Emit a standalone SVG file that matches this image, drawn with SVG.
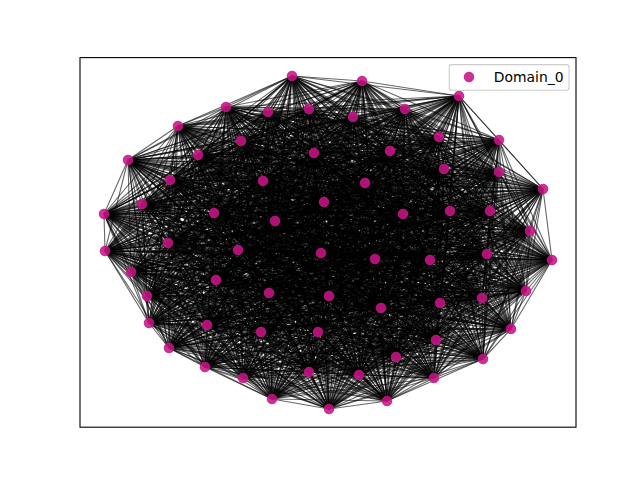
<svg xmlns="http://www.w3.org/2000/svg" width="640" height="480" viewBox="0 0 640 480">
<style>
.e{fill:none;stroke:#000;stroke-opacity:.6;stroke-width:1.1;stroke-linejoin:bevel}
.n{fill:#C71585;fill-opacity:.88;stroke:#C71585;stroke-opacity:.88;stroke-width:1}
.t{font-family:"DejaVu Sans",sans-serif;font-size:13.9px;fill:#000}
</style>
<rect width="640" height="480" fill="#fff"/>
<g id="connectors">
<path class="e" d="M292 76 362 81 459 96 226 107 309 109 405 109 268 112 353 117 178 126 439 137 499 140 241 141 390 151 314 153 198 155 128 160 444 169 499 172 170 180 263 181 365 183 543 189 324 202 142 204 104 214 214 213 403 214 450 211 490 211 275 221 530 231 168 243 105 251 238 250 321 253 487 254 375 259 430 260 552 260 131 272 216 280 526 291 269 293 147 296 329 296 482 298 440 303 381 308 149 323 207 325 511 329 261 332 318 332 436 340 169 348 396 357 483 359 205 367 309 372 359 375 434 378 243 378 272 399 387 401 329 409Z"/>
<path class="e" d="M292 76 459 96 309 109 268 112 178 126 499 140 390 151 198 155 444 169 170 180 365 183 324 202 104 214 403 214 490 211 530 231 105 251 321 253 375 259 552 260 216 280 269 293 329 296 440 303 149 323 511 329 318 332 169 348 483 359 309 372 434 378 272 399 329 409 362 81 226 107 405 109 353 117 439 137 241 141 314 153 128 160 499 172 263 181 543 189 142 204 214 213 450 211 275 221 168 243 238 250 487 254 430 260 131 272 526 291 147 296 482 298 381 308 207 325 261 332 436 340 396 357 205 367 359 375 243 378 387 401Z"/>
<path class="e" d="M292 76 226 107 268 112 439 137 390 151 128 160 170 180 543 189 104 214 450 211 530 231 238 250 375 259 131 272 269 293 482 298 149 323 261 332 169 348 205 367 434 378 387 401 362 81 309 109 353 117 499 140 314 153 444 169 263 181 324 202 214 213 490 211 168 243 321 253 430 260 216 280 147 296 440 303 207 325 318 332 396 357 309 372 243 378 329 409 459 96 405 109 178 126 241 141 198 155 499 172 365 183 142 204 403 214 275 221 105 251 487 254 552 260 526 291 329 296 381 308 511 329 436 340 483 359 359 375 272 399Z"/>
<path class="e" d="M292 76 309 109 178 126 390 151 444 169 365 183 104 214 490 211 105 251 375 259 216 280 329 296 149 323 318 332 483 359 434 378 329 409 226 107 353 117 241 141 128 160 263 181 142 204 450 211 168 243 487 254 131 272 147 296 381 308 261 332 396 357 359 375 387 401 459 96 268 112 499 140 198 155 170 180 324 202 403 214 530 231 321 253 552 260 269 293 440 303 511 329 169 348 309 372 272 399 362 81 405 109 439 137 314 153 499 172 543 189 214 213 275 221 238 250 430 260 526 291 482 298 207 325 436 340 205 367 243 378Z"/>
<path class="e" d="M292 76 405 109 499 140 128 160 365 183 214 213 530 231 487 254 216 280 482 298 511 329 396 357 434 378Z M362 81 268 112 241 141 444 169 543 189 403 214 168 243 375 259 526 291 440 303 261 332 483 359 243 378Z M459 96 353 117 390 151 499 172 324 202 450 211 105 251 430 260 269 293 381 308 318 332 205 367 272 399Z M226 107 178 126 314 153 170 180 142 204 490 211 238 250 552 260 147 296 149 323 436 340 309 372 387 401Z M309 109 439 137 198 155 263 181 104 214 275 221 321 253 131 272 329 296 207 325 169 348 359 375 329 409Z"/>
<path class="e" d="M292 76 268 112 390 151 170 180 104 214 530 231 375 259 269 293 149 323 169 348 434 378 362 81 353 117 314 153 263 181 214 213 168 243 430 260 147 296 207 325 396 357 243 378 459 96 178 126 198 155 365 183 403 214 105 251 552 260 329 296 511 329 483 359 272 399 226 107 439 137 128 160 543 189 450 211 238 250 131 272 482 298 261 332 205 367 387 401 309 109 499 140 444 169 324 202 490 211 321 253 216 280 440 303 318 332 309 372 329 409 405 109 241 141 499 172 142 204 275 221 487 254 526 291 381 308 436 340 359 375Z"/>
<path class="e" d="M292 76 353 117 198 155 543 189 490 211 487 254 269 293 207 325 483 359 387 401 405 109 390 151 263 181 403 214 238 250 216 280 381 308 169 348 243 378 226 107 499 140 499 172 104 214 168 243 552 260 482 298 318 332 359 375 362 81 178 126 128 160 324 202 275 221 375 259 147 296 511 329 205 367 329 409 268 112 314 153 365 183 450 211 321 253 526 291 149 323 396 357 272 399 309 109 241 141 170 180 214 213 105 251 131 272 440 303 436 340 434 378 459 96 439 137 444 169 142 204 530 231 430 260 329 296 261 332 309 372Z"/>
<path class="e" d="M292 76 178 126 444 169 104 214 105 251 216 280 149 323 483 359 329 409 353 117 128 160 142 204 168 243 131 272 381 308 396 357 387 401 268 112 198 155 324 202 530 231 552 260 440 303 169 348 272 399 405 109 314 153 543 189 275 221 430 260 482 298 436 340 243 378 309 109 390 151 365 183 490 211 375 259 329 296 318 332 434 378 226 107 241 141 263 181 450 211 487 254 147 296 261 332 359 375 459 96 499 140 170 180 403 214 321 253 269 293 511 329 309 372 362 81 439 137 499 172 214 213 238 250 526 291 207 325 205 367Z"/>
<path class="e" d="M292 76 439 137 170 180 450 211 375 259 482 298 169 348 387 401 353 117 444 169 214 213 321 253 147 296 318 332 243 378 405 109 198 155 142 204 105 251 526 291 511 329 359 375 226 107 390 151 543 189 530 231 131 272 149 323 205 367 362 81 499 140 263 181 490 211 430 260 440 303 396 357 329 409 178 126 499 172 403 214 487 254 329 296 436 340 272 399 268 112 128 160 104 214 238 250 269 293 261 332 434 378 309 109 314 153 324 202 168 243 216 280 207 325 309 372 459 96 241 141 365 183 275 221 552 260 381 308 483 359Z"/>
<path class="e" d="M292 76 499 140 365 183 530 231 216 280 511 329 434 378 405 109 128 160 214 213 487 254 482 298 396 357Z M362 81 241 141 543 189 168 243 526 291 261 332 243 378 268 112 444 169 403 214 375 259 440 303 483 359Z M459 96 390 151 324 202 105 251 269 293 318 332 272 399 353 117 499 172 450 211 430 260 381 308 205 367Z M226 107 314 153 142 204 238 250 147 296 436 340 387 401 178 126 170 180 490 211 552 260 149 323 309 372Z M309 109 198 155 104 214 321 253 329 296 169 348 329 409 439 137 263 181 275 221 131 272 207 325 359 375Z"/>
<path class="e" d="M292 76 241 141 324 202 238 250 329 296 396 357 362 81 390 151 142 204 321 253 482 298 483 359 459 96 314 153 104 214 487 254 440 303 205 367 226 107 198 155 214 213 375 259 381 308 309 372 309 109 128 160 403 214 430 260 149 323 359 375 405 109 444 169 450 211 552 260 207 325 434 378 268 112 499 172 490 211 131 272 511 329 243 378 353 117 170 180 275 221 216 280 261 332 272 399 178 126 263 181 530 231 526 291 318 332 387 401 439 137 365 183 168 243 269 293 436 340 329 409 499 140 543 189 105 251 147 296 169 348Z"/>
<path class="e" d="M292 76 390 151 104 214 375 259 149 323 434 378 353 117 263 181 168 243 147 296 396 357 459 96 198 155 403 214 552 260 511 329 272 399 439 137 543 189 238 250 482 298 205 367 309 109 444 169 490 211 216 280 318 332 329 409 241 141 142 204 487 254 381 308 359 375 268 112 170 180 530 231 269 293 169 348 362 81 314 153 214 213 430 260 207 325 243 378 178 126 365 183 105 251 329 296 483 359 226 107 128 160 450 211 131 272 261 332 387 401 499 140 324 202 321 253 440 303 309 372 405 109 499 172 275 221 526 291 436 340Z"/>
<path class="e" d="M292 76 314 153 403 214 131 272 318 332Z M362 81 198 155 450 211 216 280 436 340Z M459 96 128 160 490 211 526 291 169 348Z M226 107 444 169 275 221 269 293 396 357Z M309 109 499 172 530 231 147 296 483 359Z M405 109 170 180 168 243 329 296 205 367Z M268 112 263 181 105 251 482 298 309 372Z M353 117 365 183 238 250 440 303 359 375Z M178 126 543 189 321 253 381 308 434 378Z M439 137 324 202 487 254 149 323 243 378Z M499 140 142 204 375 259 207 325 272 399Z M241 141 104 214 430 260 511 329 387 401Z M390 151 214 213 552 260 261 332 329 409Z"/>
<path class="e" d="M292 76 198 155 490 211 269 293 483 359 405 109 263 181 238 250 381 308 243 378 499 140 104 214 552 260 318 332 362 81 128 160 275 221 147 296 205 367 268 112 365 183 321 253 149 323 272 399 241 141 214 213 131 272 436 340 459 96 444 169 530 231 329 296 309 372 353 117 543 189 487 254 207 325 387 401 390 151 403 214 216 280 169 348 226 107 499 172 168 243 482 298 359 375 178 126 324 202 375 259 511 329 329 409 314 153 450 211 526 291 396 357 309 109 170 180 105 251 440 303 434 378 439 137 142 204 430 260 261 332Z"/>
<path class="e" d="M292 76 128 160 530 231 482 298 434 378 499 140 214 213 216 280 396 357 405 109 365 183 487 254 511 329Z M362 81 444 169 168 243 440 303 243 378 241 141 403 214 526 291 483 359 268 112 543 189 375 259 261 332Z M459 96 499 172 105 251 381 308 272 399 390 151 450 211 269 293 205 367 353 117 324 202 430 260 318 332Z M226 107 170 180 238 250 149 323 387 401 314 153 490 211 147 296 309 372 178 126 142 204 552 260 436 340Z M309 109 263 181 321 253 207 325 329 409 198 155 275 221 329 296 359 375 439 137 104 214 131 272 169 348Z"/>
<path class="e" d="M292 76 444 169 105 251 149 323 329 409 128 160 168 243 381 308 387 401 198 155 530 231 440 303 272 399 314 153 275 221 482 298 243 378 390 151 490 211 329 296 434 378 241 141 450 211 147 296 359 375 499 140 403 214 269 293 309 372 439 137 214 213 526 291 205 367 178 126 104 214 216 280 483 359 353 117 142 204 131 272 396 357 268 112 324 202 552 260 169 348 405 109 543 189 430 260 436 340 309 109 365 183 375 259 318 332 226 107 263 181 487 254 261 332 459 96 170 180 321 253 511 329 362 81 499 172 238 250 207 325Z"/>
<path class="e" d="M292 76 499 172 321 253 261 332 226 107 365 183 430 260 169 348 268 112 142 204 216 280 205 367 439 137 403 214 147 296 434 378 390 151 275 221 440 303 387 401 128 160 105 251 207 325 362 81 170 180 487 254 318 332 309 109 543 189 552 260 396 357 353 117 104 214 526 291 309 372 499 140 450 211 329 296 243 378 314 153 530 231 381 308 329 409 444 169 238 250 511 329 459 96 263 181 375 259 436 340 405 109 324 202 131 272 483 359 178 126 214 213 269 293 359 375 241 141 490 211 482 298 272 399 198 155 168 243 149 323Z"/>
<path class="e" d="M292 76 170 180 375 259 169 348 353 117 214 213 147 296 243 378 198 155 105 251 511 329 226 107 543 189 131 272 205 367 499 140 490 211 440 303 329 409 499 172 487 254 436 340 268 112 104 214 269 293 434 378 314 153 168 243 207 325 459 96 365 183 552 260 483 359 439 137 450 211 482 298 387 401 444 169 321 253 318 332 405 109 142 204 526 291 359 375 390 151 530 231 149 323 362 81 263 181 430 260 396 357 178 126 403 214 329 296 272 399 128 160 238 250 261 332 309 109 324 202 216 280 309 372 241 141 275 221 381 308Z"/>
<path class="e" d="M292 76 263 181 552 260 205 367 241 141 530 231 207 325 226 107 324 202 526 291 434 378 198 155 238 250 318 332 268 112 214 213 329 296 387 401 499 172 375 259 396 357 439 137 490 211 381 308 362 81 365 183 131 272 309 372 390 151 168 243 511 329 309 109 142 204 269 293 243 378 128 160 321 253 436 340 353 117 403 214 482 298 329 409 170 180 430 260 483 359 499 140 275 221 149 323 459 96 543 189 216 280 359 375 314 153 105 251 261 332 405 109 104 214 147 296 272 399 444 169 487 254 169 348 178 126 450 211 440 303Z"/>
<path class="e" d="M292 76 365 183 216 280 434 378 128 160 487 254 396 357 499 140 530 231 511 329 405 109 214 213 482 298Z M362 81 543 189 526 291 243 378 444 169 375 259 483 359 241 141 168 243 261 332 268 112 403 214 440 303Z M459 96 324 202 269 293 272 399 499 172 430 260 205 367 390 151 105 251 318 332 353 117 450 211 381 308Z M226 107 142 204 147 296 387 401 170 180 552 260 309 372 314 153 238 250 436 340 178 126 490 211 149 323Z M309 109 104 214 329 296 329 409 263 181 131 272 359 375 198 155 321 253 169 348 439 137 275 221 207 325Z"/>
<path class="e" d="M292 76 543 189 269 293 387 401 263 181 216 280 243 378 499 172 552 260 359 375 128 160 375 259 205 367 314 153 321 253 396 357 241 141 105 251 436 340 439 137 530 231 261 332 353 117 490 211 207 325 405 109 403 214 381 308 226 107 104 214 482 298 362 81 324 202 147 296 329 409 365 183 526 291 272 399 170 180 131 272 434 378 444 169 430 260 309 372 198 155 487 254 483 359 390 151 238 250 169 348 499 140 168 243 318 332 178 126 275 221 511 329 268 112 450 211 149 323 309 109 214 213 440 303 459 96 142 204 329 296Z"/>
<path class="e" d="M292 76 324 202 329 296 362 81 142 204 482 298 459 96 104 214 440 303 226 107 214 213 381 308 309 109 403 214 149 323 405 109 450 211 207 325 268 112 490 211 511 329 353 117 275 221 261 332 178 126 530 231 318 332 439 137 168 243 436 340 499 140 105 251 169 348 241 141 238 250 396 357 390 151 321 253 483 359 314 153 487 254 205 367 198 155 375 259 309 372 128 160 430 260 359 375 444 169 552 260 434 378 499 172 131 272 243 378 170 180 216 280 272 399 263 181 526 291 387 401 365 183 269 293 329 409 543 189 147 296Z"/>
<path class="e" d="M292 76 142 204 440 303 309 109 450 211 511 329 178 126 168 243 169 348 390 151 487 254 309 372 444 169 131 272 272 399 365 183 147 296 362 81 104 214 381 308 405 109 490 211 261 332 439 137 105 251 396 357 314 153 375 259 359 375 499 172 216 280 387 401 543 189 329 296 459 96 214 213 149 323 268 112 275 221 318 332 499 140 238 250 483 359 198 155 430 260 434 378 170 180 526 291 329 409 324 202 482 298 226 107 403 214 207 325 353 117 530 231 436 340 241 141 321 253 205 367 128 160 552 260 243 378 263 181 269 293Z"/>
<path class="e" d="M292 76 104 214 149 323 353 117 168 243 396 357 198 155 552 260 272 399 543 189 482 298 309 109 490 211 318 332 241 141 487 254 359 375 170 180 269 293 362 81 214 213 207 325 178 126 105 251 483 359 128 160 131 272 387 401 324 202 440 303 405 109 275 221 436 340 390 151 375 259 434 378 263 181 147 296 459 96 403 214 511 329 439 137 238 250 205 367 444 169 216 280 329 409 142 204 381 308 268 112 530 231 169 348 314 153 430 260 243 378 365 183 329 296 226 107 450 211 261 332 499 140 321 253 309 372 499 172 526 291Z"/>
<path class="e" d="M292 76 214 213 511 329 499 140 487 254 434 378 365 183 482 298 405 109 530 231 396 357 128 160 216 280Z M362 81 403 214 261 332 241 141 375 259 243 378 543 189 440 303 268 112 168 243 483 359 444 169 526 291Z M459 96 450 211 318 332 390 151 430 260 272 399 324 202 381 308 353 117 105 251 205 367 499 172 269 293Z M226 107 490 211 436 340 314 153 552 260 387 401 142 204 149 323 178 126 238 250 309 372 170 180 147 296Z M309 109 275 221 169 348 198 155 131 272 329 409 104 214 207 325 439 137 321 253 359 375 263 181 329 296Z"/>
<path class="e" d="M292 76 403 214 318 332 314 153 131 272Z M362 81 450 211 436 340 198 155 216 280Z M459 96 490 211 169 348 128 160 526 291Z M226 107 275 221 396 357 444 169 269 293Z M309 109 530 231 483 359 499 172 147 296Z M405 109 168 243 205 367 170 180 329 296Z M268 112 105 251 309 372 263 181 482 298Z M353 117 238 250 359 375 365 183 440 303Z M178 126 321 253 434 378 543 189 381 308Z M439 137 487 254 243 378 324 202 149 323Z M499 140 375 259 272 399 142 204 207 325Z M241 141 430 260 387 401 104 214 511 329Z M390 151 552 260 329 409 214 213 261 332Z"/>
<path class="e" d="M292 76 450 211 169 348 444 169 147 296 405 109 105 251 359 375 543 189 149 323 499 140 430 260 329 409 403 214 436 340 128 160 269 293 309 109 168 243 309 372 365 183 381 308 439 137 375 259 387 401 214 213 318 332 198 155 526 291 226 107 530 231 205 367 263 181 440 303 178 126 487 254 272 399 104 214 261 332 314 153 216 280 459 96 275 221 483 359 170 180 482 298 353 117 321 253 243 378 142 204 511 329 390 151 131 272 362 81 490 211 396 357 499 172 329 296 268 112 238 250 434 378 324 202 207 325 241 141 552 260Z"/>
<path class="e" d="M292 76 490 211 483 359 263 181 381 308 499 140 552 260 362 81 275 221 205 367 365 183 149 323 241 141 131 272 459 96 530 231 309 372 543 189 207 325 390 151 216 280 226 107 168 243 359 375 324 202 511 329 314 153 526 291 309 109 105 251 434 378 142 204 261 332 198 155 269 293 405 109 238 250 243 378 104 214 318 332 128 160 147 296 268 112 321 253 272 399 214 213 436 340 444 169 329 296 353 117 487 254 387 401 403 214 169 348 499 172 482 298 178 126 375 259 329 409 450 211 396 357 170 180 440 303 439 137 430 260Z"/>
<path class="e" d="M292 76 275 221 309 372 324 202 261 332 128 160 329 296 178 126 430 260 362 81 530 231 359 375 142 204 318 332 444 169 482 298 439 137 552 260 459 96 168 243 434 378 104 214 436 340 499 172 440 303 499 140 131 272 226 107 105 251 243 378 214 213 169 348 170 180 381 308 241 141 216 280 309 109 238 250 272 399 403 214 396 357 263 181 149 323 390 151 526 291 405 109 321 253 387 401 450 211 483 359 365 183 207 325 314 153 269 293 268 112 487 254 329 409 490 211 205 367 543 189 511 329 198 155 147 296 353 117 375 259Z"/>
<path class="e" d="M292 76 530 231 434 378 214 213 396 357 365 183 511 329 128 160 482 298 499 140 216 280 405 109 487 254Z M362 81 168 243 243 378 403 214 483 359 543 189 261 332 444 169 440 303 241 141 526 291 268 112 375 259Z M459 96 105 251 272 399 450 211 205 367 324 202 318 332 499 172 381 308 390 151 269 293 353 117 430 260Z M226 107 238 250 387 401 490 211 309 372 142 204 436 340 170 180 149 323 314 153 147 296 178 126 552 260Z M309 109 321 253 329 409 275 221 359 375 104 214 169 348 263 181 207 325 198 155 329 296 439 137 131 272Z"/>
<path class="e" d="M292 76 168 243 272 399 490 211 359 375 214 213 483 359 324 202 436 340 263 181 511 329 444 169 381 308 314 153 329 296 499 140 526 291 353 117 552 260 309 109 487 254 362 81 105 251 387 401 275 221 434 378 403 214 205 367 142 204 169 348 365 183 261 332 499 172 149 323 198 155 482 298 241 141 269 293 178 126 131 272 405 109 375 259 459 96 238 250 329 409 530 231 243 378 450 211 309 372 104 214 396 357 543 189 318 332 170 180 207 325 128 160 440 303 390 151 147 296 439 137 216 280 268 112 430 260 226 107 321 253Z"/>
<path class="e" d="M292 76 105 251 329 409 168 243 387 401 530 231 272 399 275 221 243 378 490 211 434 378 450 211 359 375 403 214 309 372 214 213 205 367 104 214 483 359 142 204 396 357 324 202 169 348 543 189 436 340 365 183 318 332 263 181 261 332 170 180 511 329 499 172 207 325 444 169 149 323 128 160 381 308 198 155 440 303 314 153 482 298 390 151 329 296 241 141 147 296 499 140 269 293 439 137 526 291 178 126 216 280 353 117 131 272 268 112 552 260 405 109 430 260 309 109 375 259 226 107 487 254 459 96 321 253 362 81 238 250Z"/>
</g>
<g id="nodes">
<g id="n0"><circle class="n" cx="292" cy="76" r="4.8"/></g>
<g id="n1"><circle class="n" cx="362" cy="81" r="4.8"/></g>
<g id="n2"><circle class="n" cx="459" cy="96" r="4.8"/></g>
<g id="n3"><circle class="n" cx="226" cy="107" r="4.8"/></g>
<g id="n4"><circle class="n" cx="309" cy="109" r="4.8"/></g>
<g id="n5"><circle class="n" cx="405" cy="109" r="4.8"/></g>
<g id="n6"><circle class="n" cx="268" cy="112" r="4.8"/></g>
<g id="n7"><circle class="n" cx="353" cy="117" r="4.8"/></g>
<g id="n8"><circle class="n" cx="178" cy="126" r="4.8"/></g>
<g id="n9"><circle class="n" cx="439" cy="137" r="4.8"/></g>
<g id="n10"><circle class="n" cx="499" cy="140" r="4.8"/></g>
<g id="n11"><circle class="n" cx="241" cy="141" r="4.8"/></g>
<g id="n12"><circle class="n" cx="390" cy="151" r="4.8"/></g>
<g id="n13"><circle class="n" cx="314" cy="153" r="4.8"/></g>
<g id="n14"><circle class="n" cx="198" cy="155" r="4.8"/></g>
<g id="n15"><circle class="n" cx="128" cy="160" r="4.8"/></g>
<g id="n16"><circle class="n" cx="444" cy="169" r="4.8"/></g>
<g id="n17"><circle class="n" cx="499" cy="172" r="4.8"/></g>
<g id="n18"><circle class="n" cx="170" cy="180" r="4.8"/></g>
<g id="n19"><circle class="n" cx="263" cy="181" r="4.8"/></g>
<g id="n20"><circle class="n" cx="365" cy="183" r="4.8"/></g>
<g id="n21"><circle class="n" cx="543" cy="189" r="4.8"/></g>
<g id="n22"><circle class="n" cx="324" cy="202" r="4.8"/></g>
<g id="n23"><circle class="n" cx="142" cy="204" r="4.8"/></g>
<g id="n24"><circle class="n" cx="104" cy="214" r="4.8"/></g>
<g id="n25"><circle class="n" cx="214" cy="213" r="4.8"/></g>
<g id="n26"><circle class="n" cx="403" cy="214" r="4.8"/></g>
<g id="n27"><circle class="n" cx="450" cy="211" r="4.8"/></g>
<g id="n28"><circle class="n" cx="490" cy="211" r="4.8"/></g>
<g id="n29"><circle class="n" cx="275" cy="221" r="4.8"/></g>
<g id="n30"><circle class="n" cx="530" cy="231" r="4.8"/></g>
<g id="n31"><circle class="n" cx="168" cy="243" r="4.8"/></g>
<g id="n32"><circle class="n" cx="105" cy="251" r="4.8"/></g>
<g id="n33"><circle class="n" cx="238" cy="250" r="4.8"/></g>
<g id="n34"><circle class="n" cx="321" cy="253" r="4.8"/></g>
<g id="n35"><circle class="n" cx="487" cy="254" r="4.8"/></g>
<g id="n36"><circle class="n" cx="375" cy="259" r="4.8"/></g>
<g id="n37"><circle class="n" cx="430" cy="260" r="4.8"/></g>
<g id="n38"><circle class="n" cx="552" cy="260" r="4.8"/></g>
<g id="n39"><circle class="n" cx="131" cy="272" r="4.8"/></g>
<g id="n40"><circle class="n" cx="216" cy="280" r="4.8"/></g>
<g id="n41"><circle class="n" cx="526" cy="291" r="4.8"/></g>
<g id="n42"><circle class="n" cx="269" cy="293" r="4.8"/></g>
<g id="n43"><circle class="n" cx="147" cy="296" r="4.8"/></g>
<g id="n44"><circle class="n" cx="329" cy="296" r="4.8"/></g>
<g id="n45"><circle class="n" cx="482" cy="298" r="4.8"/></g>
<g id="n46"><circle class="n" cx="440" cy="303" r="4.8"/></g>
<g id="n47"><circle class="n" cx="381" cy="308" r="4.8"/></g>
<g id="n48"><circle class="n" cx="149" cy="323" r="4.8"/></g>
<g id="n49"><circle class="n" cx="207" cy="325" r="4.8"/></g>
<g id="n50"><circle class="n" cx="511" cy="329" r="4.8"/></g>
<g id="n51"><circle class="n" cx="261" cy="332" r="4.8"/></g>
<g id="n52"><circle class="n" cx="318" cy="332" r="4.8"/></g>
<g id="n53"><circle class="n" cx="436" cy="340" r="4.8"/></g>
<g id="n54"><circle class="n" cx="169" cy="348" r="4.8"/></g>
<g id="n55"><circle class="n" cx="396" cy="357" r="4.8"/></g>
<g id="n56"><circle class="n" cx="483" cy="359" r="4.8"/></g>
<g id="n57"><circle class="n" cx="205" cy="367" r="4.8"/></g>
<g id="n58"><circle class="n" cx="309" cy="372" r="4.8"/></g>
<g id="n59"><circle class="n" cx="359" cy="375" r="4.8"/></g>
<g id="n60"><circle class="n" cx="434" cy="378" r="4.8"/></g>
<g id="n61"><circle class="n" cx="243" cy="378" r="4.8"/></g>
<g id="n62"><circle class="n" cx="272" cy="399" r="4.8"/></g>
<g id="n63"><circle class="n" cx="387" cy="401" r="4.8"/></g>
<g id="n64"><circle class="n" cx="329" cy="409" r="4.8"/></g>
</g>
<rect x="80" y="57.6" width="496" height="369.6" fill="none" stroke="#000" stroke-width="1.1"/>
<g id="legend">
<rect x="449.3" y="64.6" width="119.8" height="25.6" rx="2.8" fill="#fff" fill-opacity=".8" stroke="#ccc" stroke-width="1.1"/>
<circle class="n" cx="469" cy="77" r="4.8"/>
<text class="t" x="493.8" y="81.6">Domain_0</text>
</g>
</svg>
